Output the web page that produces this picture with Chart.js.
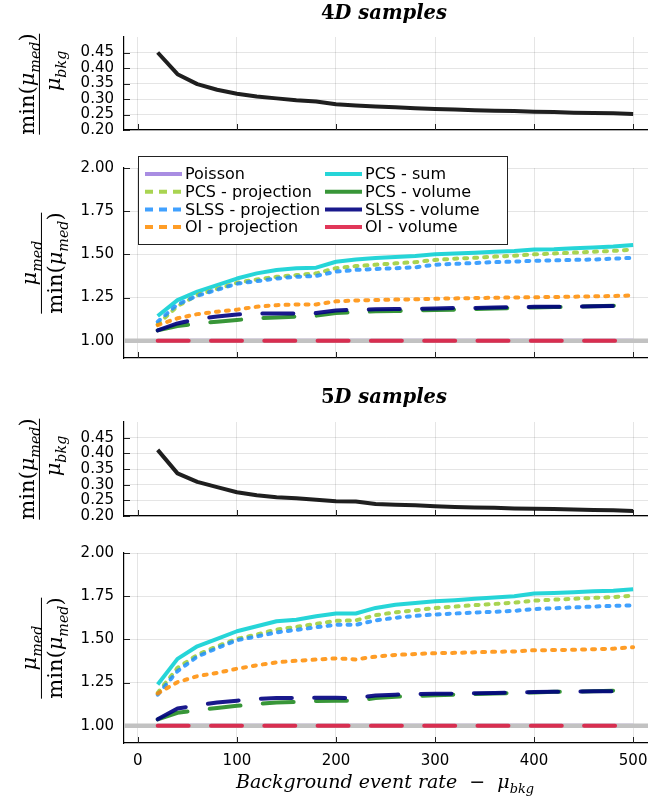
<!DOCTYPE html>
<html>
<head>
<meta charset="utf-8">
<script src="https://cdn.jsdelivr.net/npm/chart.js@4.4.1/dist/chart.umd.min.js"></script>
<style>
  body { margin: 0; background: #fff; }
  #fig { position: relative; width: 648px; height: 804px; overflow: hidden; }
  #fig canvas { position: absolute; left: 0; }
  .math { position: absolute; font-family: "DejaVu Serif", serif; color: #000; white-space: nowrap; }
  .title { font-size: 19.5px; font-weight: bold; font-style: italic; transform: translate(-50%, -50%); }
  .title .up { font-style: normal; }
  .xlab { font-size: 19px; font-style: italic; transform: translate(-50%, -50%); }
  .frac { display: inline-flex; flex-direction: column; align-items: center; font-size: 21px;
          transform: translate(-50%, -50%) rotate(-90deg); line-height: 1.05; }
  .frac .bar { align-self: stretch; border-top: 1.6px solid #000; margin: 1px 0 2px 0; }
  .frac i { font-style: italic; }
  .frac sub, .xlab sub { font-size: 0.68em; font-style: italic; vertical-align: -0.4em; line-height: 0; }
  .frac .den-off { margin-left: 26px; }
</style>
</head>
<body>
<div id="fig">
  <canvas id="p4dTop" width="648" height="140" style="top:0px"></canvas>
  <canvas id="p4dRel" width="648" height="225" style="top:140px"></canvas>
  <canvas id="p5dTop" width="648" height="141" style="top:385px"></canvas>
  <canvas id="p5dRel" width="648" height="279" style="top:525px"></canvas>

  <div class="math title" style="left:384px; top:12px"><span class="up">4</span>D samples</div>
  <div class="math title" style="left:384px; top:396px"><span class="up">5</span>D samples</div>

  <div class="math frac" style="left:40px; top:84px">
    <span>min(<i>μ</i><sub>med</sub>)</span><span class="bar"></span><span class="den-off"><i>μ</i><sub>bkg</sub></span>
  </div>
  <div class="math frac" style="left:42px; top:263px">
    <span><i>μ</i><sub>med</sub></span><span class="bar"></span><span>min(<i>μ</i><sub>med</sub>)</span>
  </div>
  <div class="math frac" style="left:40px; top:469px">
    <span>min(<i>μ</i><sub>med</sub>)</span><span class="bar"></span><span class="den-off"><i>μ</i><sub>bkg</sub></span>
  </div>
  <div class="math frac" style="left:42px; top:648px">
    <span><i>μ</i><sub>med</sub></span><span class="bar"></span><span>min(<i>μ</i><sub>med</sub>)</span>
  </div>

  <div class="math xlab" style="left:385px; top:781px">Background event rate &nbsp;− &nbsp;<i>μ</i><sub>bkg</sub></div>
</div>

<script>
// background rates on the x axis
const xValues = [20, 40, 60, 80, 100, 120, 140, 160, 180, 200, 220, 240, 260,
                 280, 300, 320, 340, 360, 380, 400, 420, 440, 460, 480, 500];
const xTicks = [0, 100, 200, 300, 400, 500];
const ratioTicks = [0.20, 0.25, 0.30, 0.35, 0.40, 0.45];
const relTicks = [1.00, 1.25, 1.50, 1.75, 2.00];
const refLevel = 1.0;

// min(mu_med) / mu_bkg
const minRatio4D = [0.450, 0.380, 0.348, 0.330, 0.317, 0.308, 0.302, 0.296, 0.292, 0.283, 0.279, 0.276, 0.273,
                    0.270, 0.268, 0.266, 0.264, 0.262, 0.261, 0.259, 0.258, 0.256, 0.255, 0.254, 0.252];
const minRatio5D = [0.411, 0.336, 0.309, 0.292, 0.276, 0.266, 0.260, 0.257, 0.252, 0.247, 0.246, 0.238, 0.236,
                    0.234, 0.231, 0.229, 0.227, 0.226, 0.224, 0.223, 0.222, 0.221, 0.219, 0.218, 0.216];

// mu_med / min(mu_med), 4D
const poisson4D  = [1, 1, 1, 1, 1, 1, 1, 1, 1, 1, 1, 1, 1, 1, 1, 1, 1, 1, 1, 1, 1, 1, 1, 1, 1];
const pcsSum4D   = [1.143, 1.235, 1.284, 1.322, 1.360, 1.390, 1.410, 1.420, 1.423, 1.457, 1.470, 1.479, 1.485,
                    1.490, 1.500, 1.505, 1.510, 1.515, 1.520, 1.528, 1.530, 1.535, 1.540, 1.545, 1.554];
const pcsProj4D  = [1.095, 1.200, 1.265, 1.300, 1.335, 1.355, 1.370, 1.380, 1.390, 1.420, 1.432, 1.440, 1.448,
                    1.455, 1.468, 1.475, 1.480, 1.487, 1.492, 1.500, 1.505, 1.510, 1.515, 1.520, 1.528];
const pcsVol4D   = [1.060, 1.085, 1.100, 1.110, 1.120, 1.130, 1.135, 1.140, 1.145, 1.160, 1.165, 1.170, 1.172,
                    1.175, 1.178, 1.180, 1.183, 1.186, 1.190, 1.193, 1.195, 1.197, 1.200, 1.203, 1.205];
const slssProj4D = [1.110, 1.210, 1.260, 1.295, 1.330, 1.345, 1.360, 1.370, 1.375, 1.400, 1.410, 1.415, 1.420,
                    1.425, 1.440, 1.445, 1.450, 1.455, 1.458, 1.463, 1.465, 1.468, 1.470, 1.475, 1.480];
const slssVol4D  = [1.060, 1.100, 1.125, 1.140, 1.152, 1.157, 1.158, 1.158, 1.160, 1.175, 1.180, 1.182, 1.183,
                    1.185, 1.187, 1.190, 1.190, 1.192, 1.194, 1.196, 1.197, 1.198, 1.200, 1.201, 1.203];
const oiProj4D   = [1.090, 1.130, 1.154, 1.168, 1.180, 1.197, 1.206, 1.210, 1.210, 1.228, 1.233, 1.236, 1.238,
                    1.240, 1.243, 1.245, 1.247, 1.249, 1.250, 1.252, 1.253, 1.255, 1.257, 1.259, 1.262];
const oiVol4D    = [1, 1, 1, 1, 1, 1, 1, 1, 1, 1, 1, 1, 1, 1, 1, 1, 1, 1, 1, 1, 1, 1, 1, 1, 1];

// mu_med / min(mu_med), 5D
const poisson5D  = [1, 1, 1, 1, 1, 1, 1, 1, 1, 1, 1, 1, 1, 1, 1, 1, 1, 1, 1, 1, 1, 1, 1, 1, 1];
const pcsSum5D   = [1.239, 1.387, 1.460, 1.503, 1.547, 1.576, 1.605, 1.614, 1.634, 1.650, 1.650, 1.682, 1.700,
                    1.710, 1.720, 1.727, 1.735, 1.742, 1.750, 1.765, 1.768, 1.773, 1.778, 1.782, 1.790];
const pcsProj5D  = [1.190, 1.335, 1.410, 1.460, 1.503, 1.528, 1.557, 1.572, 1.590, 1.607, 1.610, 1.640, 1.657,
                    1.668, 1.682, 1.690, 1.698, 1.705, 1.713, 1.724, 1.730, 1.735, 1.740, 1.745, 1.753];
const pcsVol5D   = [1.037, 1.075, 1.090, 1.103, 1.115, 1.125, 1.135, 1.138, 1.143, 1.145, 1.145, 1.160, 1.168,
                    1.172, 1.176, 1.180, 1.183, 1.186, 1.190, 1.193, 1.196, 1.198, 1.200, 1.203, 1.205];
const slssProj5D = [1.180, 1.316, 1.400, 1.450, 1.495, 1.517, 1.540, 1.555, 1.570, 1.584, 1.584, 1.610, 1.625,
                    1.636, 1.644, 1.650, 1.655, 1.660, 1.665, 1.676, 1.680, 1.685, 1.690, 1.694, 1.697];
const slssVol5D  = [1.037, 1.100, 1.118, 1.135, 1.145, 1.155, 1.160, 1.160, 1.162, 1.162, 1.160, 1.175, 1.180,
                    1.183, 1.185, 1.186, 1.188, 1.190, 1.192, 1.195, 1.196, 1.198, 1.199, 1.200, 1.200];
const oiProj5D   = [1.187, 1.252, 1.287, 1.306, 1.330, 1.350, 1.367, 1.376, 1.383, 1.390, 1.384, 1.400, 1.410,
                    1.415, 1.420, 1.422, 1.425, 1.428, 1.430, 1.437, 1.438, 1.440, 1.443, 1.446, 1.455];
const oiVol5D    = [1, 1, 1, 1, 1, 1, 1, 1, 1, 1, 1, 1, 1, 1, 1, 1, 1, 1, 1, 1, 1, 1, 1, 1, 1];

const seriesLabels = ['Poisson', 'PCS - sum', 'PCS - projection', 'PCS - volume',
                      'SLSS - projection', 'SLSS - volume', 'OI - projection', 'OI - volume'];

Chart.defaults.font.family = '"DejaVu Sans", sans-serif';
Chart.defaults.font.size = 15;
Chart.defaults.color = '#000';

const COLORS = {
  poisson: 'rgba(147,112,219,0.8)',
  pcsSum:  'rgba(0,206,209,0.85)',
  pcsProj: 'rgba(154,205,50,0.85)',
  pcsVol:  'rgba(34,139,34,0.9)',
  slssProj:'rgba(30,144,255,0.85)',
  slssVol: 'rgba(0,0,128,0.9)',
  oiProj:  'rgba(255,140,0,0.85)',
  oiVol:   'rgba(220,20,60,0.85)',
  black:   'rgba(0,0,0,0.88)',
  ref:     '#c2c2c2'
};

const DASH = {
  solid: [],
  dot: [3, 7],       // short dashes of the projection curves
  dash: [31, 22.3]   // long dashes of the volume curves
};

function points(ys) {
  return xValues.map((x, i) => ({ x, y: ys[i] }));
}

function line(label, ys, color, style, idx) {
  return {
    label,
    data: points(ys),
    borderColor: color,
    borderWidth: 4,
    borderDash: DASH[style],
    borderCapStyle: style === 'solid' ? 'butt' : 'round',
    borderJoinStyle: 'round',
    legendDash: style === 'dot' ? [8, 6] : [],
    pointRadius: 0,
    tension: 0,
    fill: false,
    order: -idx   // later series drawn on top
  };
}

function relSeries(s) {
  const list = [
    [s.poisson, COLORS.poisson, 'solid'],
    [s.pcsSum, COLORS.pcsSum, 'solid'],
    [s.pcsProj, COLORS.pcsProj, 'dot'],
    [s.pcsVol, COLORS.pcsVol, 'dash'],
    [s.slssProj, COLORS.slssProj, 'dot'],
    [s.slssVol, COLORS.slssVol, 'dash'],
    [s.oiProj, COLORS.oiProj, 'dot'],
    [s.oiVol, COLORS.oiVol, 'dash']
  ];
  return list.map((d, i) => line(seriesLabels[i], d[0], d[1], d[2], i));
}

// tick marks pointing into the plot, plus the grey y = 1 reference
const axisMarks = {
  id: 'axisMarks',
  beforeDatasetsDraw(chart) {
    const { ctx, chartArea: a, scales: { x, y } } = chart;
    ctx.save();
    ctx.strokeStyle = '#222';
    ctx.lineWidth = 1;
    ctx.beginPath();
    x.ticks.forEach(t => {
      const px = Math.round(x.getPixelForValue(t.value)) + 0.5;
      ctx.moveTo(px, a.bottom); ctx.lineTo(px, a.bottom - 6);
    });
    y.ticks.forEach(t => {
      const py = Math.round(y.getPixelForValue(t.value)) + 0.5;
      ctx.moveTo(a.left, py); ctx.lineTo(a.left + 6, py);
    });
    ctx.stroke();
    ctx.restore();
  },
  afterDatasetDraw(chart, args, opts) {
    if (!opts.refLine || args.index !== 0) return;
    const { ctx, chartArea: a, scales: { y } } = chart;
    const py = y.getPixelForValue(refLevel);
    ctx.save();
    ctx.strokeStyle = COLORS.ref;
    ctx.lineWidth = 4.5;
    ctx.beginPath();
    ctx.moveTo(a.left, py); ctx.lineTo(a.right, py);
    ctx.stroke();
    ctx.restore();
  }
};

// two-column legend inside the top left corner
const boxLegend = {
  id: 'boxLegend',
  afterDraw(chart, args, o) {
    if (!o.show) return;
    const ctx = chart.ctx;
    ctx.save();
    ctx.fillStyle = '#fff';
    ctx.fillRect(o.x, o.y, o.w, o.h);
    ctx.strokeStyle = '#222';
    ctx.lineWidth = 1;
    ctx.strokeRect(o.x + 0.5, o.y + 0.5, o.w, o.h);
    ctx.font = '16px "DejaVu Sans", sans-serif';
    ctx.textBaseline = 'middle';
    chart.data.datasets.forEach((d, i) => {
      const col = i % 2, row = Math.floor(i / 2);
      const lx = o.x + o.cols[col];
      const ly = o.y + o.row0 + row * o.rowH;
      ctx.strokeStyle = d.borderColor;
      ctx.lineWidth = 4;
      ctx.lineCap = 'butt';
      ctx.setLineDash(d.legendDash);
      ctx.beginPath();
      ctx.moveTo(lx, ly); ctx.lineTo(lx + 37, ly);
      ctx.stroke();
      ctx.setLineDash([]);
      ctx.fillStyle = '#000';
      ctx.fillText(d.label, lx + 40, ly + 1);
    });
    ctx.restore();
  }
};

function makePanel(id, datasets, cfg) {
  const fixY = cfg.yTicks;
  return new Chart(document.getElementById(id), {
    type: 'line',
    data: { datasets },
    plugins: [axisMarks, boxLegend],
    options: {
      responsive: false,
      animation: false,
      devicePixelRatio: 1,
      layout: { padding: { top: cfg.padTop, bottom: cfg.padBottom, left: 0, right: 0 } },
      plugins: {
        legend: { display: false },
        tooltip: { enabled: false },
        axisMarks: { refLine: !!cfg.refLine },
        boxLegend: cfg.legend || { show: false }
      },
      scales: {
        x: {
          type: 'linear',
          min: -14, max: 515,
          afterBuildTicks: s => { s.ticks = xTicks.map(v => ({ value: v })); },
          afterFit: s => { s.height = cfg.xHeight; s.paddingLeft = 0; s.paddingRight = 0; },
          ticks: { display: cfg.xLabels, padding: 9, maxRotation: 0, autoSkip: false, font: { size: 15 } },
          grid: { color: 'rgba(0,0,0,0.1)', lineWidth: 1, drawTicks: false },
          border: { color: '#000', width: 1.2 }
        },
        y: {
          type: 'linear',
          min: cfg.yMin, max: cfg.yMax,
          afterBuildTicks: s => { s.ticks = fixY.map(v => ({ value: v })); },
          afterFit: s => { s.width = 124; s.paddingTop = 0; s.paddingBottom = 0; },
          ticks: { padding: 10, autoSkip: false, font: { size: 15 }, callback: v => v.toFixed(2) },
          grid: { color: 'rgba(0,0,0,0.1)', lineWidth: 1, drawTicks: false },
          border: { color: '#000', width: 1.2 }
        }
      }
    }
  });
}

const legendBox = {
  show: true, x: 138, y: 16, w: 369, h: 88,
  cols: [7, 187], row0: 18, rowH: 17.7
};

makePanel('p4dTop', [line('4D', minRatio4D, COLORS.black, 'solid', 0)], {
  padTop: 37, padBottom: 10, xHeight: 0, xLabels: false,
  yMin: 0.2, yMax: 0.5, yTicks: ratioTicks
});

makePanel('p4dRel', relSeries({
  poisson: poisson4D, pcsSum: pcsSum4D, pcsProj: pcsProj4D, pcsVol: pcsVol4D,
  slssProj: slssProj4D, slssVol: slssVol4D, oiProj: oiProj4D, oiVol: oiVol4D
}), {
  padTop: 28, padBottom: 7, xHeight: 0, xLabels: false,
  yMin: 0.9, yMax: 2.0, yTicks: relTicks, refLine: true, legend: legendBox
});

makePanel('p5dTop', [line('5D', minRatio5D, COLORS.black, 'solid', 0)], {
  padTop: 37, padBottom: 10, xHeight: 0, xLabels: false,
  yMin: 0.2, yMax: 0.5, yTicks: ratioTicks
});

makePanel('p5dRel', relSeries({
  poisson: poisson5D, pcsSum: pcsSum5D, pcsProj: pcsProj5D, pcsVol: pcsVol5D,
  slssProj: slssProj5D, slssVol: slssVol5D, oiProj: oiProj5D, oiVol: oiVol5D
}), {
  padTop: 28, padBottom: 0, xHeight: 61, xLabels: true,
  yMin: 0.9, yMax: 2.0, yTicks: relTicks, refLine: true
});
</script>
</body>
</html>
